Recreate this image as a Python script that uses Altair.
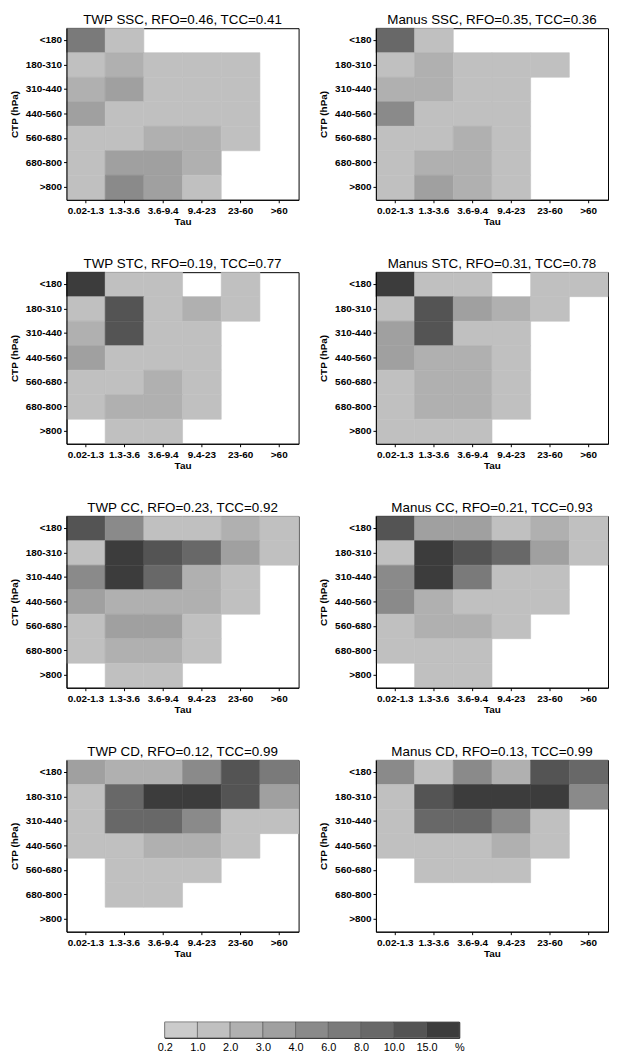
import altair as alt
import pandas as pd

tau_bins = ["0.02-1.3", "1.3-3.6", "3.6-9.4", "9.4-23", "23-60", ">60"]
ctp_bins = ["<180", "180-310", "310-440", "440-560", "560-680", "680-800", ">800"]

legend_bounds = [0.2, 1.0, 2.0, 3.0, 4.0, 6.0, 8.0, 10.0, 15.0]
legend_labels = ["0.2", "1.0", "2.0", "3.0", "4.0", "6.0", "8.0", "10.0", "15.0", "%"]
gray_levels = ["#cbcbcb", "#c0c0c0", "#b0b0b0", "#a0a0a0", "#8a8a8a",
               "#7a7a7a", "#686868", "#545454", "#3c3c3c"]

N = None
# rows: CTP bins (top to bottom), columns: tau bins; values in %
twp_ssc = [[7.0, 1.5, N, N, N, N],
           [1.5, 2.5, 1.5, 1.5, 1.5, N],
           [2.5, 3.5, 1.5, 1.5, 1.5, N],
           [3.5, 1.5, 1.5, 1.5, 1.5, N],
           [1.5, 1.5, 2.5, 2.5, 1.5, N],
           [1.5, 3.5, 3.5, 2.5, N, N],
           [1.5, 5.0, 3.5, 1.5, N, N]]
manus_ssc = [[9.0, 1.5, N, N, N, N],
             [1.5, 2.5, 1.5, 1.5, 1.5, N],
             [2.5, 2.5, 1.5, 1.5, N, N],
             [5.0, 1.5, 1.5, 1.5, N, N],
             [1.5, 1.5, 2.5, 1.5, N, N],
             [1.5, 2.5, 2.5, 1.5, N, N],
             [1.5, 3.5, 2.5, 1.5, N, N]]
twp_stc = [[18.0, 1.5, 1.5, N, 1.5, N],
           [1.5, 12.0, 1.5, 2.5, 1.5, N],
           [2.5, 12.0, 1.5, 1.5, N, N],
           [3.5, 1.5, 1.5, 1.5, N, N],
           [1.5, 1.5, 2.5, 1.5, N, N],
           [1.5, 2.5, 2.5, 1.5, N, N],
           [N, 1.5, 1.5, N, N, N]]
manus_stc = [[18.0, 1.5, 1.5, N, 1.5, 1.5],
             [1.5, 12.0, 3.5, 2.5, 1.5, N],
             [3.5, 12.0, 1.5, 1.5, N, N],
             [3.5, 2.5, 2.5, 1.5, N, N],
             [1.5, 2.5, 2.5, 1.5, N, N],
             [1.5, 2.5, 2.5, 1.5, N, N],
             [1.5, 1.5, 1.5, N, N, N]]
twp_cc = [[12.0, 5.0, 1.5, 1.5, 2.5, 1.5],
          [1.5, 18.0, 12.0, 9.0, 3.5, 1.5],
          [5.0, 18.0, 9.0, 2.5, 1.5, N],
          [3.5, 2.5, 2.5, 2.5, 1.5, N],
          [1.5, 3.5, 3.5, 1.5, N, N],
          [1.5, 2.5, 2.5, 1.5, N, N],
          [N, 1.5, 1.5, N, N, N]]
manus_cc = [[12.0, 3.5, 3.5, 1.5, 2.5, 1.5],
            [1.5, 18.0, 12.0, 9.0, 3.5, 1.5],
            [5.0, 18.0, 7.0, 1.5, 1.5, N],
            [5.0, 2.5, 1.5, 1.5, 1.5, N],
            [1.5, 2.5, 2.5, 1.5, N, N],
            [1.5, 1.5, 1.5, N, N, N],
            [N, 1.5, 1.5, N, N, N]]
twp_cd = [[3.5, 2.5, 2.5, 5.0, 12.0, 7.0],
          [1.5, 9.0, 18.0, 18.0, 12.0, 3.5],
          [1.5, 9.0, 9.0, 5.0, 1.5, 1.5],
          [1.5, 1.5, 2.5, 2.5, 1.5, N],
          [N, 1.5, 1.5, 1.5, N, N],
          [N, 1.5, 1.5, N, N, N],
          [N, N, N, N, N, N]]
manus_cd = [[5.0, 1.5, 5.0, 2.5, 12.0, 9.0],
            [1.5, 12.0, 18.0, 18.0, 18.0, 5.0],
            [1.5, 9.0, 9.0, 5.0, 1.5, N],
            [1.5, 1.5, 1.5, 2.5, 1.5, N],
            [N, 1.5, 1.5, 1.5, N, N],
            [N, N, N, N, N, N],
            [N, N, N, N, N, N]]

panel_titles = [
    "TWP SSC, RFO=0.46, TCC=0.41", "Manus SSC, RFO=0.35, TCC=0.36",
    "TWP STC, RFO=0.19, TCC=0.77", "Manus STC, RFO=0.31, TCC=0.78",
    "TWP CC, RFO=0.23, TCC=0.92", "Manus CC, RFO=0.21, TCC=0.93",
    "TWP CD, RFO=0.12, TCC=0.99", "Manus CD, RFO=0.13, TCC=0.99",
]
panel_data = [twp_ssc, manus_ssc, twp_stc, manus_stc,
              twp_cc, manus_cc, twp_cd, manus_cd]

FONT = "Liberation Sans"
W, H = 234, 173

color_scale = alt.Scale(type="threshold", domain=legend_bounds[1:], range=gray_levels)


def panel(grid, title):
    rows = []
    for i, ctp in enumerate(ctp_bins):
        for j, tau in enumerate(tau_bins):
            v = grid[i][j]
            if v is not None:
                rows.append({"ctp": ctp, "tau": tau, "pct": v})
    df = pd.DataFrame(rows)
    return alt.Chart(df).mark_rect(strokeWidth=0.6).encode(
        x=alt.X("tau:O", sort=tau_bins,
                scale=alt.Scale(domain=tau_bins, paddingInner=0, paddingOuter=0),
                axis=alt.Axis(title="Tau", labelAngle=0)),
        y=alt.Y("ctp:O", sort=ctp_bins,
                scale=alt.Scale(domain=ctp_bins, paddingInner=0, paddingOuter=0),
                axis=alt.Axis(title="CTP (hPa)")),
        color=alt.Color("pct:Q", scale=color_scale, legend=None),
        stroke=alt.Stroke("pct:Q", scale=color_scale, legend=None),
    ).properties(
        width=W, height=H,
        title=alt.Title(title, fontSize=13.5, fontWeight="normal", font=FONT,
                        frame="group", anchor="middle", offset=1, color="black"),
    )


rows = []
for r in range(4):
    left = panel(panel_data[2 * r], panel_titles[2 * r])
    right = panel(panel_data[2 * r + 1], panel_titles[2 * r + 1])
    rows.append(alt.hconcat(left, right, spacing=18))

grid_chart = alt.vconcat(*rows, spacing=29)

cb_df = pd.DataFrame({
    "lo": legend_bounds,
    "i0": list(range(len(legend_bounds))),
    "i1": list(range(1, len(legend_bounds) + 1)),
})
label_js = "[" + ",".join("'" + s + "'" for s in legend_labels) + "][datum.value]"
colorbar = alt.Chart(cb_df).mark_rect(stroke="#555555", strokeWidth=0.6).encode(
    x=alt.X("i0:Q", scale=alt.Scale(domain=[0, len(legend_bounds)], nice=False),
            axis=alt.Axis(title=None, values=list(range(len(legend_labels))),
                          labelExpr=label_js, ticks=False, domain=False, grid=False,
                          labelFontWeight="normal", labelFontSize=11, labelPadding=4,
                          labelFlush=False)),
    x2="i1:Q",
    color=alt.Color("lo:Q", scale=color_scale, legend=None),
).properties(width=297, height=16)

spacer = alt.Chart(cb_df.head(1)).mark_text(text="", opacity=0).encode(
    x=alt.value(0), y=alt.value(0)
).properties(width=90, height=16, view=alt.ViewBackground(strokeOpacity=0))

legend_row = alt.hconcat(spacer, colorbar, spacing=0)

chart = alt.vconcat(grid_chart, legend_row, spacing=57).properties(
    padding=0
).configure(
    font=FONT,
).configure_view(
    stroke="black", strokeWidth=1,
).configure_axis(
    labelFont=FONT, titleFont=FONT, labelFontWeight="bold", titleFontWeight="bold",
    labelFontSize=10, titleFontSize=10, labelColor="black", titleColor="black",
    tickSize=3, tickColor="black", domainColor="black", grid=False,
    labelPadding=2,
).configure_axisX(
    titlePadding=1, labelPadding=3,
).configure_axisY(
    titlePadding=6,
)

chart.save("out.html", embed_options={"renderer": "svg", "actions": False})
